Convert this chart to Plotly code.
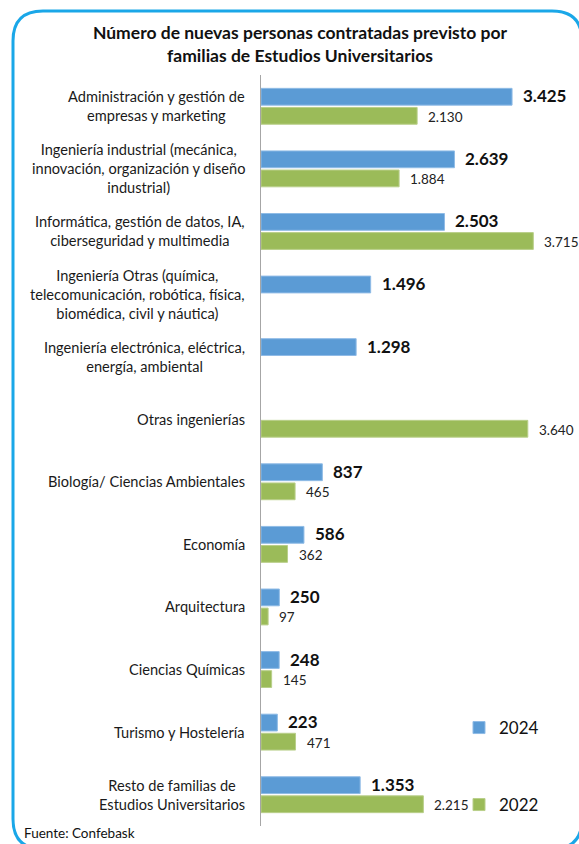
import plotly.graph_objects as go

categories = [
    "Administración y gestión de<br>empresas y marketing",
    "Ingeniería industrial (mecánica,<br>innovación, organización y diseño<br>industrial)",
    "Informática, gestión de datos, IA,<br>ciberseguridad y multimedia",
    "Ingeniería Otras (química,<br>telecomunicación, robótica, física,<br>biomédica, civil y náutica)",
    "Ingeniería electrónica, eléctrica,<br>energía, ambiental",
    "Otras ingenierías",
    "Biología/ Ciencias Ambientales",
    "Economía",
    "Arquitectura",
    "Ciencias Químicas",
    "Turismo y Hostelería",
    "Resto de familias de<br>Estudios Universitarios",
]
values_2024 = [3425, 2639, 2503, 1496, 1298, None, 837, 586, 250, 248, 223, 1353]
values_2022 = [2130, 1884, 3715, None, None, 3640, 465, 362, 97, 145, 471, 2215]
series_names = ["2024", "2022"]
title_text = "Número de nuevas personas contratadas previsto por<br>familias de Estudios Universitarios"
source_text = "Fuente: Confebask"

W, H = 579, 844
L, R, T, B = 261, 0, 75, 18
PW, PH = W - L - R, H - T - B
FONT = "Lato"
BLUE = "#5b9bd5"
GREEN = "#9bbb59"


def fmt(v):
    return f"{v:,}".replace(",", ".")


def px(x):
    return (x - L) / PW


def py(y):
    return (H - B - y) / PH


fig = go.Figure()
fig.add_trace(go.Bar(y=list(range(len(categories))), x=values_2024, orientation="h",
                     name=series_names[0], marker=dict(color=BLUE, line=dict(color="#8fbbe6", width=1)),
                     legend="legend"))
fig.add_trace(go.Bar(y=list(range(len(categories))), x=values_2022, orientation="h",
                     name=series_names[1], marker=dict(color=GREEN, line=dict(color="#b9cf8a", width=1)),
                     legend="legend2"))

annotations = []
off = 0.168
for i, cat in enumerate(categories):
    annotations.append(dict(xref="paper", yref="y", x=0, y=i, xanchor="right", yanchor="middle",
                            xshift=-14, text=cat, showarrow=False, align="center",
                            font=dict(family=FONT, size=14.6, color="#1a1a1a")))
    if values_2024[i] is not None:
        annotations.append(dict(xref="x", yref="y", x=values_2024[i], y=i - off, xanchor="left",
                                yanchor="middle", xshift=9, text="<b>" + fmt(values_2024[i]) + "</b>",
                                showarrow=False, font=dict(family=FONT, size=17, color="#111111")))
    if values_2022[i] is not None:
        annotations.append(dict(xref="x", yref="y", x=values_2022[i], y=i + off, xanchor="left",
                                yanchor="middle", xshift=9, text=fmt(values_2022[i]),
                                showarrow=False, font=dict(family=FONT, size=13.5, color="#222222")))

annotations.append(dict(xref="paper", yref="paper", x=px(22), y=py(833), xanchor="left",
                        yanchor="middle", text=source_text, showarrow=False,
                        font=dict(family=FONT, size=13.5, color="#111111")))

# rounded border
x0, y0, x1, y1, rr = 13, 11, 582, 849, 30
path = (f"M {px(x0)},{py(y0 + rr)} L {px(x0)},{py(y1 - rr)} "
        f"Q {px(x0)},{py(y1)} {px(x0 + rr)},{py(y1)} L {px(x1 - rr)},{py(y1)} "
        f"Q {px(x1)},{py(y1)} {px(x1)},{py(y1 - rr)} L {px(x1)},{py(y0 + rr)} "
        f"Q {px(x1)},{py(y0)} {px(x1 - rr)},{py(y0)} L {px(x0 + rr)},{py(y0)} "
        f"Q {px(x0)},{py(y0)} {px(x0)},{py(y0 + rr)} Z")

fig.update_layout(
    width=W, height=H,
    margin=dict(l=L, r=R, t=T, b=B, pad=0),
    paper_bgcolor="white", plot_bgcolor="white",
    barmode="group", bargap=0.39, bargroupgap=0.12,
    title=dict(text="<b>" + title_text + "</b>", x=300 / W, xanchor="center", xref="container",
               y=1 - 39 / H, yref="container", yanchor="middle",
               font=dict(family=FONT, size=17.5, color="#111111")),
    xaxis=dict(range=[0, PW / 0.0733], visible=False, fixedrange=True),
    yaxis=dict(range=[len(categories) - 0.5, -0.5], showticklabels=False, ticks="",
               showgrid=False, zeroline=False, showline=True, linecolor="#a6a6a6", linewidth=1,
               fixedrange=True),
    showlegend=True,
    legend=dict(x=px(459), y=py(728), xanchor="left", yanchor="middle",
                font=dict(family=FONT, size=17, color="#111111"), bgcolor="rgba(0,0,0,0)"),
    legend2=dict(x=px(459), y=py(805), xanchor="left", yanchor="middle",
                 font=dict(family=FONT, size=17, color="#111111"), bgcolor="rgba(0,0,0,0)"),
    annotations=annotations,
    shapes=[dict(type="path", xref="paper", yref="paper", path=path,
                 line=dict(color="#1aa7e8", width=3), fillcolor="rgba(0,0,0,0)")],
    font=dict(family=FONT),
)

fig.write_html("out.html", config={"displayModeBar": False},
               post_script="document.body.style.margin='0';")
